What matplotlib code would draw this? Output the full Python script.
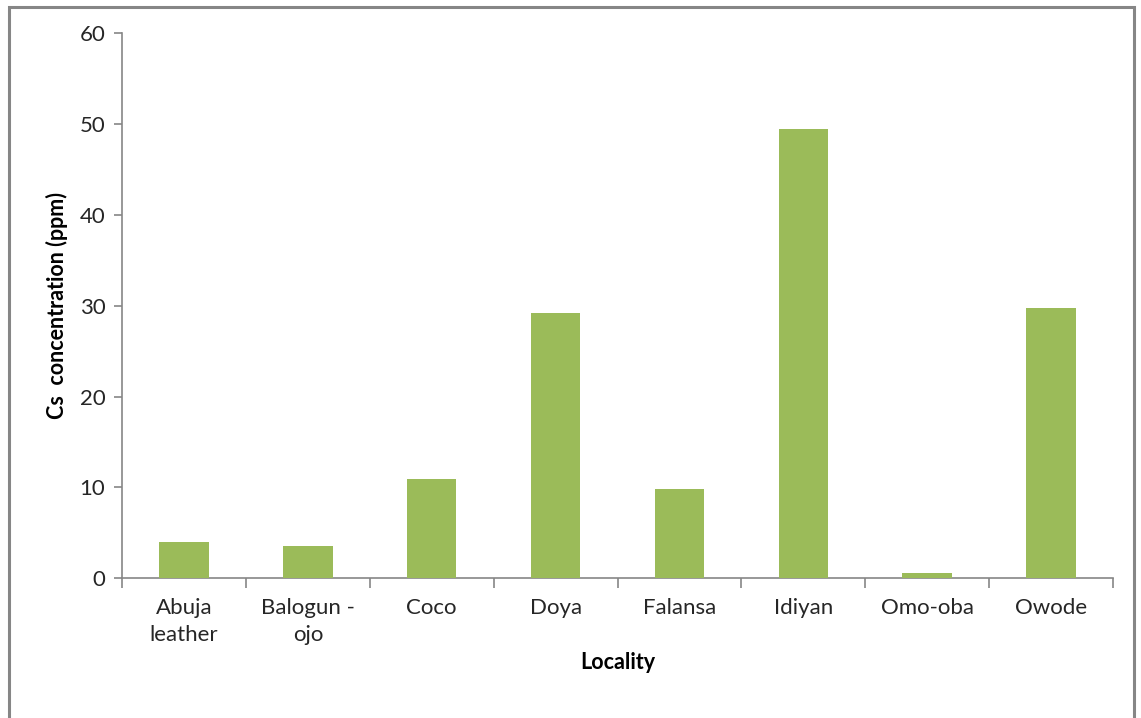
import matplotlib
matplotlib.use("Agg")
import matplotlib.pyplot as plt
from matplotlib.patches import Rectangle

localities = ["Abuja\nleather", "Balogun -\nojo", "Coco", "Doya", "Falansa",
              "Idiyan", "Omo-oba", "Owode"]
cs_ppm = [4.0, 3.55, 10.95, 29.2, 9.8, 49.5, 0.6, 29.75]
y_ticks = [0, 10, 20, 30, 40, 50, 60]

plt.rcParams["font.family"] = ["Lato", "DejaVu Sans"]
axis_grey = "#868686"
text_color = "#262626"

fig = plt.figure(figsize=(11.41, 7.18), dpi=100)
ax = fig.add_axes([122 / 1141, 1 - 578.3 / 718, (1113 - 122) / 1141, (578.3 - 33.3) / 718])

x = list(range(len(localities)))
ax.bar(x, cs_ppm, width=0.4, color="#9BBB59", edgecolor="none", zorder=3)

ax.set_xlim(-0.5, len(localities) - 0.5)
ax.set_ylim(0, 60)
ax.set_yticks(y_ticks)
ax.set_yticklabels([str(v) for v in y_ticks], fontsize=16, color=text_color)

# Category labels centred on bars, tick marks at category boundaries
ax.set_xticks(x)
ax.set_xticklabels(localities, fontsize=16, color=text_color, linespacing=1.45)
ax.tick_params(axis="x", which="major", length=0, pad=14)
ax.set_xticks([i - 0.5 for i in range(len(localities) + 1)], minor=True)
ax.tick_params(axis="x", which="minor", length=7, width=1.2, color=axis_grey, direction="out")
ax.tick_params(axis="y", length=6, width=1.2, color=axis_grey, direction="out", pad=6)

for side in ["top", "right"]:
    ax.spines[side].set_visible(False)
for side in ["left", "bottom"]:
    ax.spines[side].set_color(axis_grey)
    ax.spines[side].set_linewidth(1.2)

ax.set_ylabel("Cs  concentration (ppm)", fontsize=15.5, fontweight="bold",
              color="black", labelpad=8)
ax.set_xlabel("Locality", fontsize=15.5, fontweight="bold", color="black", labelpad=5)

# Chart-area frame around the whole figure
frame = Rectangle((8.5 / 1141, -0.05), (1134 - 8.5) / 1141, 1 - 7 / 718 + 0.05,
                  transform=fig.transFigure, fill=False, edgecolor=axis_grey,
                  linewidth=2.2, clip_on=False)
fig.patches.append(frame)

fig.savefig("out.png", dpi=100)
